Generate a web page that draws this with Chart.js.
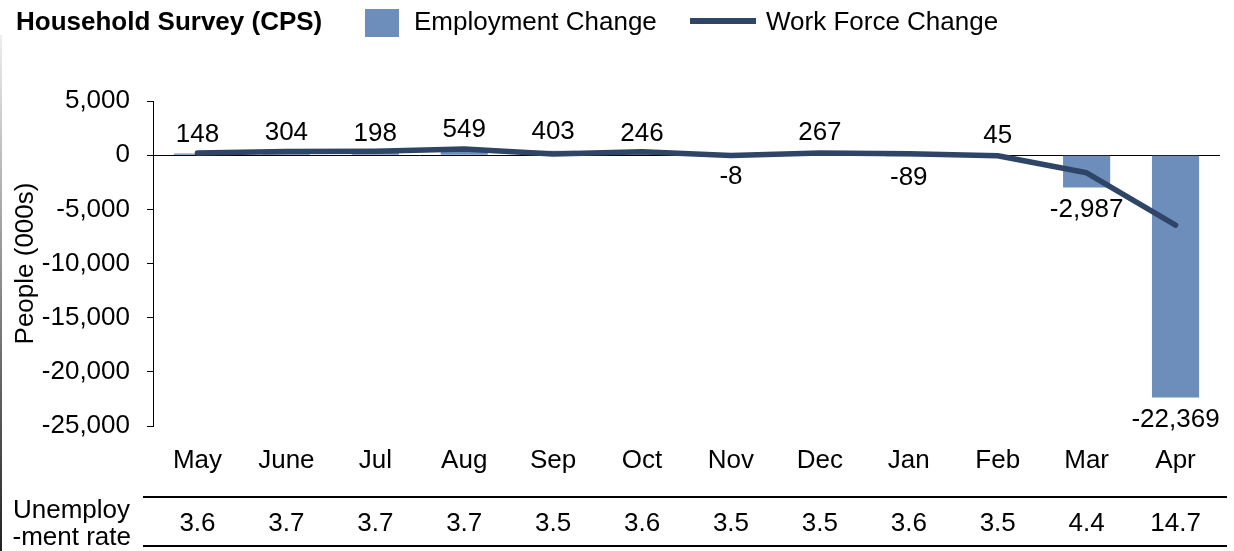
<!DOCTYPE html>
<html><head><meta charset="utf-8">
<script src="https://cdn.jsdelivr.net/npm/chart.js@4.4.1/dist/chart.umd.min.js"></script>
<style>html,body{margin:0;padding:0;background:#fff;overflow:hidden}#wrap{width:1234px;height:551px;position:relative}</style>
</head><body><div id="wrap"><canvas id="c" width="1234" height="551"></canvas></div>
<script>
const months = ['May','June','Jul','Aug','Sep','Oct','Nov','Dec','Jan','Feb','Mar','Apr'];
const employmentChange = [148,304,198,549,403,246,-8,267,-89,45,-2987,-22369];
const workForceChange = [190,335,370,571,117,325,-40,207,139,-60,-1630,-6450];
const unemploymentRate = ['3.6','3.7','3.7','3.7','3.5','3.6','3.5','3.5','3.6','3.5','4.4','14.7'];
const yMin = -25000, yMax = 5000, yStep = 5000;
const chartTitle = 'Household Survey (CPS)';
const yTitle = 'People (000s)';
const rateLabel = ['Unemploy', '-ment rate'];

const FONT = '"Liberation Sans", Arial, Helvetica, sans-serif';
const FS = 26;
const BAR_COLOR = '#6d8dbb';
const LINE_COLOR = '#2f4567';
const fmt = v => v.toLocaleString('en-US');

const overlay = {
  id: 'overlay',
  beforeDatasetsDraw(chart) {
    const {ctx, chartArea: a, scales: {y}} = chart;
    const y0 = Math.round(y.getPixelForValue(0)) + 0.5;
    ctx.save();
    ctx.strokeStyle = '#000'; ctx.lineWidth = 1;
    ctx.beginPath(); ctx.moveTo(a.left, y0); ctx.lineTo(a.right, y0); ctx.stroke();
    ctx.restore();
  },
  afterDatasetsDraw(chart) {
    const {ctx} = chart;
    const meta = chart.getDatasetMeta(0);
    ctx.save();
    ctx.font = FS + 'px ' + FONT;
    ctx.fillStyle = '#000';
    ctx.textAlign = 'center';
    ctx.textBaseline = 'middle';
    meta.data.forEach((bar, i) => {
      const v = employmentChange[i];
      const ty = v >= 0 ? bar.y - 19 : bar.y + 22;
      ctx.fillText(fmt(v), bar.x, ty);
    });
    ctx.restore();
  },
  afterDraw(chart) {
    const {ctx, scales: {x}} = chart;
    ctx.save();
    ctx.fillStyle = '#000';
    ctx.textBaseline = 'middle';
    ctx.textAlign = 'left';
    ctx.font = 'bold ' + FS + 'px ' + FONT;
    ctx.fillText(chartTitle, 16, 23);
    const ds = chart.data.datasets;
    ctx.fillStyle = ds[0].backgroundColor;
    ctx.fillRect(365, 9, 34, 28);
    ctx.fillStyle = '#000';
    ctx.font = FS + 'px ' + FONT;
    ctx.fillText(ds[0].label, 414, 23);
    ctx.strokeStyle = ds[1].borderColor;
    ctx.lineWidth = 6;
    ctx.beginPath(); ctx.moveTo(690, 21); ctx.lineTo(756, 21); ctx.stroke();
    ctx.fillText(ds[1].label, 766, 23);
    ctx.strokeStyle = '#000'; ctx.lineWidth = 2;
    ctx.beginPath();
    ctx.moveTo(143, 497); ctx.lineTo(1227, 497);
    ctx.moveTo(143, 546); ctx.lineTo(1227, 546);
    ctx.stroke();
    ctx.textAlign = 'right';
    ctx.fillText(rateLabel[0], 130, 511);
    ctx.fillText(rateLabel[1], 131, 538);
    ctx.textAlign = 'center';
    unemploymentRate.forEach((r, i) => ctx.fillText(r, x.getPixelForValue(i), 524));
    const g = ctx.createLinearGradient(0, 35, 0, 551);
    g.addColorStop(0, '#eeeeee'); g.addColorStop(1, '#222222');
    ctx.fillStyle = g;
    ctx.fillRect(0, 35, 2, 516);
    ctx.restore();
  }
};

new Chart(document.getElementById('c'), {
  type: 'bar',
  data: {
    labels: months,
    datasets: [
      { type: 'bar', label: 'Employment Change', data: employmentChange, backgroundColor: BAR_COLOR,
        categoryPercentage: 1, barPercentage: 0.53, order: 1 },
      { type: 'line', label: 'Work Force Change', data: workForceChange, borderColor: LINE_COLOR,
        backgroundColor: LINE_COLOR, borderWidth: 5.5, pointRadius: 0, tension: 0,
        borderCapStyle: 'round', borderJoinStyle: 'round', order: 0 }
    ]
  },
  options: {
    responsive: false,
    animation: false,
    devicePixelRatio: 1,
    layout: { padding: { top: 101, right: 14, bottom: 66, left: 0 } },
    plugins: { legend: { display: false }, tooltip: { enabled: false } },
    scales: {
      x: {
        grid: { display: false },
        border: { display: false },
        ticks: { color: '#000', font: { family: FONT, size: FS }, padding: 11, maxRotation: 0, autoSkip: false },
        afterFit: s => { s.height = 59; }
      },
      y: {
        min: yMin, max: yMax,
        ticks: { stepSize: yStep, color: '#000', font: { family: FONT, size: FS }, padding: 17,
          callback: v => fmt(v) },
        grid: { drawOnChartArea: false, drawTicks: true, tickLength: 6, color: '#000' },
        border: { display: true, color: '#000', width: 1 },
        title: { display: true, text: yTitle, color: '#000', font: { family: FONT, size: FS }, padding: { top: 10, bottom: 0 } },
        afterFit: s => { s.width = 153; }
      }
    }
  },
  plugins: [overlay]
});
</script></body></html>
